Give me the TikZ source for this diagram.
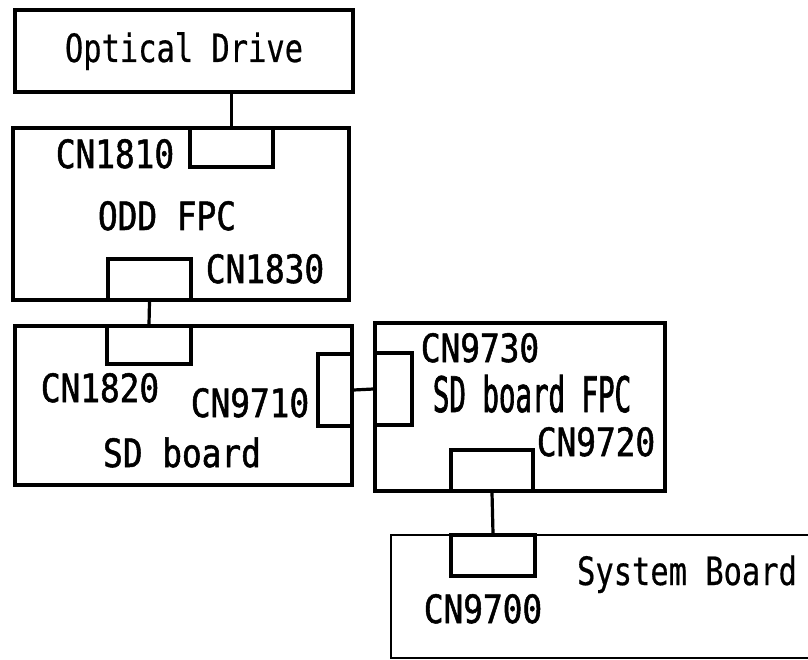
\documentclass[tikz,border=0pt]{standalone}
\usepackage{fontspec}
\usetikzlibrary{positioning}
\newfontfamily\cnfont[FakeStretch=0.84,FakeBold=1.3]{DejaVu Sans Mono}
\newfontfamily\thinfont[FakeStretch=0.78,FakeBold=0.5]{DejaVu Sans Mono}
\newfontfamily\fpcfont[FakeStretch=0.56,FakeBold=1.3]{DejaVu Sans Mono}

\begin{document}
\begin{tikzpicture}[
    x=1pt, y=-1pt,
    board/.style={draw, line width=3.5pt, inner sep=0pt},
    conn/.style={draw, line width=3.2pt, inner sep=0pt},
    wire/.style={line width=3.2pt},
    lbl/.style={anchor=base, inner sep=0pt, font=\cnfont\fontsize{39}{40}\selectfont},
    thinlbl/.style={anchor=base, inner sep=0pt, font=\thinfont\fontsize{39}{40}\selectfont}
]
\useasboundingbox (0,0) rectangle (808,660);
\clip (0,0) rectangle (808,660);

% boards
\node[board, minimum width=338pt, minimum height=82pt] (drive) at (184,51) {};
\node[board, minimum width=336pt, minimum height=172pt] (oddfpc) at (181,214) {};
\node[board, minimum width=337pt, minimum height=159pt] (sdboard) at (183.5,405.5) {};
\node[board, minimum width=290pt, minimum height=168pt] (sdfpc) at (520,407) {};
\node[board, line width=2.5pt, minimum width=440pt, minimum height=123pt] (sysboard) at (611,596.5) {};

% connectors
\node[conn, minimum width=83pt, minimum height=39pt] (cn1810) at (231.5,147.5) {};
\node[conn, minimum width=83pt, minimum height=41pt] (cn1830) at (149.5,279.5) {};
\node[conn, minimum width=84pt, minimum height=38pt] (cn1820) at (149,345) {};
\node[conn, minimum width=34pt, minimum height=72pt] (cn9710) at (335,390) {};
\node[conn, minimum width=37pt, minimum height=72pt] (cn9730) at (393.5,389) {};
\node[conn, minimum width=82pt, minimum height=41pt] (cn9720) at (492,470.5) {};
\node[conn, minimum width=84pt, minimum height=41pt] (cn9700) at (493,555.5) {};

% cables
\draw[wire] (cn1810.north) -- (cn1810.north |- drive.south);
\draw[wire] (cn1830.south) -- (cn1820.north);
\draw[wire] (cn9710.east) -- (cn9730.west);
\draw[wire] (cn9720.south) -- (cn9700.north);

% texts
\node[thinlbl] (tdrive) at (184,62) {Optical Drive};
\node[lbl] (t1810) at (115,168) {CN1810};
\node[lbl] (toddfpc) at (167,230) {ODD FPC};
\node[lbl] (t1830) at (265,283) {CN1830};
\node[lbl] (t1820) at (100,402) {CN1820};
\node[lbl] (t9710) at (250,417) {CN9710};
\node[lbl] (tsdboard) at (182,467) {SD board};
\node[lbl] (t9730) at (480,362) {CN9730};
\node[lbl, font=\fpcfont\fontsize{49}{50}\selectfont] (tsdfpc) at (532,412) {SD board FPC};
\node[lbl] (t9720) at (596,456) {CN9720};
\node[thinlbl] (tsys) at (687,585) {System Board};
\node[lbl] (t9700) at (483,623) {CN9700};
\end{tikzpicture}
\end{document}
